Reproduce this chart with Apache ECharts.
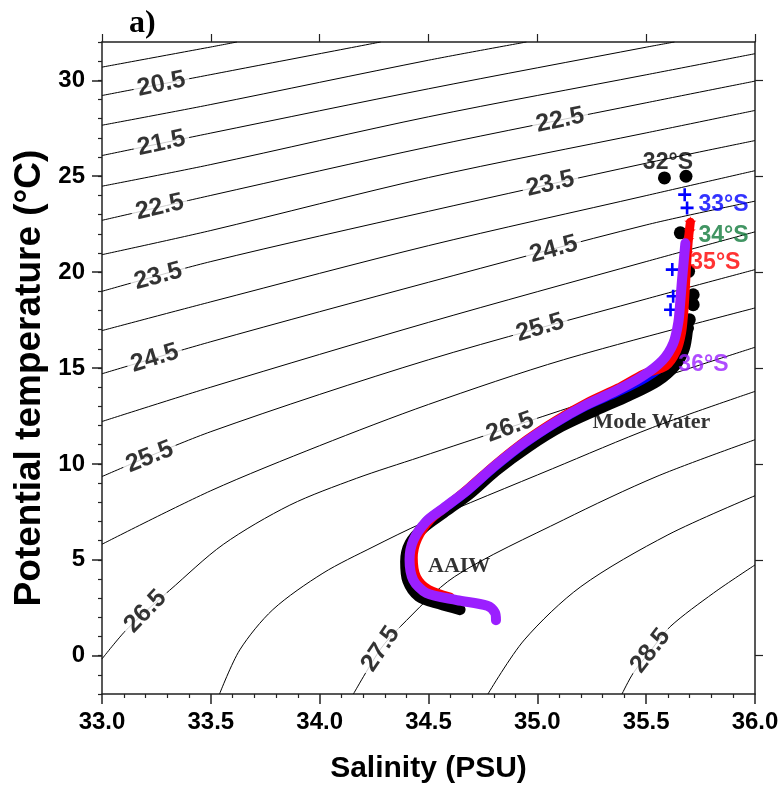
<!DOCTYPE html>
<html>
<head>
<meta charset="utf-8">
<script src="https://cdn.jsdelivr.net/npm/echarts@6/dist/echarts.min.js"></script>
<style>
  html, body { margin: 0; padding: 0; background: #fff; }
  #chart { width: 783px; height: 792px; }
</style>
</head>
<body>
<div id="chart"></div>
<script>
// isopycnals (sigma-theta), points [salinity, potential temperature]
var iso20_0 = [[33.0, 30.69], [33.5, 31.74], [33.62, 32.0]];
var iso20_5 = [[33.0, 29.21], [33.5, 30.3], [34.28, 32.0]];
var iso21_0 = [[33.0, 27.66], [33.5, 28.74], [34.5, 31.05], [34.95, 32.0]];
var iso21_5 = [[33.0, 26.08], [33.5, 27.25], [34.5, 29.56], [35.5, 31.73], [35.63, 32.0]];
var iso22_0 = [[33.0, 24.48], [33.5, 25.61], [34.5, 28.1], [35.5, 30.29], [36.0, 31.39]];
var iso22_5 = [[33.0, 22.7], [33.5, 24.0], [34.5, 26.53], [35.5, 28.83], [36.0, 29.96]];
var iso23_0 = [[33.0, 20.91], [33.5, 22.17], [34.5, 24.93], [35.5, 27.26], [36.0, 28.43]];
var iso23_5 = [[33.0, 19.0], [33.5, 20.55], [34.5, 23.17], [35.5, 25.68], [36.0, 26.86]];
var iso24_0 = [[33.0, 16.95], [33.5, 18.45], [34.5, 21.38], [35.5, 23.99], [36.0, 25.29]];
var iso24_5 = [[33.0, 14.7], [33.5, 16.37], [34.5, 19.47], [35.5, 22.46], [36.0, 23.7]];
var iso25_0 = [[33.0, 12.21], [33.5, 14.0], [34.5, 17.38], [35.5, 20.55], [36.0, 22.1]];
var iso25_5 = [[33.0, 9.34], [33.5, 11.68], [34.5, 15.43], [35.5, 18.6], [36.0, 20.13]];
var iso26_0 = [[33.0, 5.81], [33.5, 8.6], [34.0, 10.95], [34.5, 13.1], [35.12, 15.43], [36.0, 18.13]];
var iso26_5 = [[33.0, -0.17], [33.1, 1.2], [33.2, 2.3], [33.31, 3.4], [33.557, 5.8], [33.863, 7.85],
               [34.17, 9.25], [34.46, 10.35], [34.875, 11.91], [35.5, 14.25], [36.0, 16.08]];
var iso27_0 = [[33.54, -2.0], [33.633, 0.3], [33.785, 2.4], [34.015, 4.3], [34.245, 5.67], [34.475, 6.93],
               [35.07, 9.75], [35.53, 11.9], [36.0, 13.78]];
var iso27_5 = [[34.155, -2.0], [34.28, 0.35], [34.37, 1.51], [34.62, 4.12], [35.12, 7.08], [35.55, 9.35], [36.0, 11.26]];
var iso28_0 = [[34.773, -2.0], [34.94, 0.82], [35.2, 3.6], [35.6, 6.3], [36.0, 8.34]];
var iso28_5 = [[35.389, -2.0], [35.44, -0.92], [35.52, 0.25], [35.61, 1.51], [35.81, 3.27], [36.0, 4.73]];

var isoLevels = ['20.0', '20.5', '21.0', '21.5', '22.0', '22.5', '23.0', '23.5', '24.0',
                 '24.5', '25.0', '25.5', '26.0', '26.5', '27.0', '27.5', '28.0', '28.5'];
var isoLines = [iso20_0, iso20_5, iso21_0, iso21_5, iso22_0, iso22_5, iso23_0, iso23_5, iso24_0,
                iso24_5, iso25_0, iso25_5, iso26_0, iso26_5, iso27_0, iso27_5, iso28_0, iso28_5];

// contour labels
var labelText = ['20.5', '21.5', '22.5', '23.5', '24.5', '25.5', '26.5', '27.5', '28.5',
                 '22.5', '23.5', '24.5', '25.5', '26.5'];
var labelS = [33.273, 33.273, 33.265, 33.258, 33.242, 33.219, 33.2, 34.28, 35.52,
              35.105, 35.06, 35.075, 35.013, 34.875];
var labelT = [29.8, 26.72, 23.39, 19.78, 15.51, 10.36, 2.3, 0.35, 0.25,
              27.92, 24.6, 21.19, 17.1, 11.91];

// stations
// 32S
var s32Band = [[35.69, 17.0], [35.675, 16.0], [35.635, 15.15], [35.55, 14.3], [35.42, 13.55], [35.27, 12.8],
               [35.11, 11.95], [34.96, 10.9], [34.81, 9.65], [34.69, 8.45], [34.57, 7.45], [34.48, 6.7],
               [34.415, 5.85], [34.395, 4.9], [34.405, 3.9], [34.455, 3.1], [34.55, 2.7], [34.645, 2.4]];
var s32Dots = [[35.584, 24.91], [35.683, 25.0], [35.657, 22.05], [35.695, 20.04], [35.716, 18.82],
               [35.716, 18.3], [35.698, 17.52], [35.69, 17.09]];
// 33S
var s33Band = [[35.655, 17.3], [35.64, 16.3], [35.6, 15.35], [35.5, 14.5], [35.37, 13.75], [35.22, 13.0],
               [35.08, 12.1], [34.94, 11.05], [34.8, 9.8], [34.68, 8.6], [34.57, 7.65], [34.49, 6.95],
               [34.43, 6.0], [34.415, 5.0], [34.43, 4.0]];
var s33Plus = [[35.677, 24.04], [35.688, 23.35], [35.62, 20.13], [35.624, 18.74], [35.612, 18.04]];
// 34S
var s34Band = [[35.685, 21.5], [35.675, 20.0], [35.665, 18.5], [35.655, 17.3], [35.63, 16.2], [35.58, 15.35],
               [35.48, 14.55], [35.36, 13.8], [35.22, 13.05], [35.08, 12.15], [34.94, 11.1], [34.8, 9.85],
               [34.68, 8.65], [34.57, 7.7], [34.49, 7.0], [34.43, 6.0], [34.415, 5.0], [34.43, 4.0]];
var s34Tri = [[35.69, 21.96]];
// 35S
var s35Band = [[35.703, 22.6], [35.694, 21.7], [35.688, 20.8], [35.683, 19.8], [35.678, 18.8], [35.672, 17.8],
               [35.662, 16.8], [35.64, 15.9], [35.59, 15.1], [35.49, 14.7], [35.37, 13.95], [35.23, 13.2],
               [35.09, 12.3], [34.95, 11.25], [34.81, 10.0], [34.69, 8.8], [34.59, 7.85], [34.51, 7.1],
               [34.45, 6.1], [34.43, 5.1], [34.445, 4.1], [34.5, 3.45], [34.6, 3.05]];
var s35Stars = [[35.703, 22.6], [35.7, 22.15], [35.694, 21.7], [35.69, 21.0], [35.686, 20.3], [35.68, 19.2]];
// 36S
var s36Band = [[35.68, 21.5], [35.672, 20.5], [35.664, 19.5], [35.657, 18.5], [35.648, 17.4], [35.625, 16.3],
               [35.575, 15.4], [35.48, 14.55], [35.36, 13.8], [35.22, 13.05], [35.08, 12.15], [34.94, 11.1],
               [34.8, 9.85], [34.68, 8.65], [34.57, 7.7], [34.49, 7.0], [34.43, 6.0], [34.413, 5.0],
               [34.43, 3.95], [34.49, 3.27], [34.63, 2.9], [34.77, 2.6], [34.805, 2.25], [34.81, 1.85]];

// text annotations
var noteText = ['32°S', '33°S', '34°S', '35°S', '36°S', 'Mode Water', 'AAIW'];
var noteS = [35.60, 35.855, 35.855, 35.818, 35.763, 35.524, 34.641];
var noteT = [25.71, 23.51, 21.9, 20.49, 15.17, 12.15, 4.68];

var yMajor = [0, 5, 10, 15, 20, 25, 30];

var sans = "'Liberation Sans', Arial, sans-serif";
var serif = "'Liberation Serif', 'Times New Roman', serif";
var axisColor = '#222';

var labelRotate = [12, 12.5, 13.5, 15, 17, 22, 46, 56, 52, 12, 13, 15, 16.5, 20];
var noteColor = ['#000', '#0000ff', '#127a3c', '#ff0000', '#9b1fff', '#000', '#000'];
var noteFont = [sans, sans, sans, sans, sans, serif, serif];
var noteSize = [23, 23, 23, 23, 23, 22, 22];

var plusPath = 'path://M4,0H6V4H10V6H6V10H4V6H0V4H4Z';
var starPath = 'path://M50,0L61,35H98L68,57L79,91L50,70L21,91L32,57L2,35H39Z';

var chart = echarts.init(document.getElementById('chart'));

var series = [];
isoLines.forEach(function (line, i) {
  series.push({
    name: 'sigma ' + isoLevels[i],
    type: 'line',
    data: line,
    smooth: 0.3,
    showSymbol: false,
    silent: true,
    lineStyle: { color: '#000', width: 1 },
    z: 2
  });
});

series.push({
  type: 'scatter',
  silent: true,
  symbolSize: 1,
  itemStyle: { color: 'rgba(0,0,0,0)' },
  z: 3,
  label: {
    show: true,
    position: 'inside',
    color: '#000',
    fontSize: 25,
    fontWeight: 'bold',
    fontFamily: sans,
    backgroundColor: '#fff',
    padding: [0, 4]
  },
  data: labelText.map(function (t, i) {
    return { value: [labelS[i], labelT[i]], label: { rotate: labelRotate[i], formatter: t } };
  })
});

function band(data, color, width, z) {
  return {
    type: 'line', data: data, smooth: 0.3, showSymbol: false, silent: true, z: z,
    lineStyle: { color: color, width: width, cap: 'round', join: 'round' }
  };
}
function marks(data, symbol, size, color, z) {
  return {
    type: 'scatter', data: data, symbol: symbol, symbolSize: size, silent: true, z: z,
    itemStyle: { color: color, opacity: 1 }
  };
}

series.push(band(s32Band, '#000', 11, 4));
series.push(marks(s32Dots, 'circle', 13, '#000', 4));
series.push(band(s33Band, '#0000ff', 9, 5));
series.push(marks(s33Plus, plusPath, 13, '#0000ff', 5));
series.push(band(s34Band, '#127a3c', 9, 6));
series.push(marks(s34Tri, 'triangle', 9, '#127a3c', 6));
series.push(band(s35Band, '#ff0000', 9, 7));
series.push(marks(s35Stars, starPath, 12, '#ff0000', 7));
series.push(band(s36Band, '#9b1fff', 10, 8));

series.push({
  type: 'scatter',
  silent: true,
  symbolSize: 1,
  itemStyle: { color: 'rgba(0,0,0,0)' },
  z: 9,
  label: { show: true, position: 'inside', fontWeight: 'bold' },
  data: noteText.map(function (t, i) {
    return {
      value: [noteS[i], noteT[i]],
      label: { formatter: t, color: noteColor[i], fontFamily: noteFont[i], fontSize: noteSize[i] }
    };
  })
});

var option = {
  backgroundColor: '#fff',
  animation: false,
  title: {
    text: 'a)',
    left: 124,
    top: 3,
    textStyle: { fontFamily: serif, fontWeight: 'bold', fontSize: 32, color: '#000' }
  },
  graphic: [
    {
      type: 'text',
      x: 30,
      y: 378,
      rotation: Math.PI / 2,
      style: {
        text: 'Potential temperature (°C)',
        font: 'bold 37px ' + sans,
        fill: '#000',
        textAlign: 'center',
        textVerticalAlign: 'middle'
      }
    }
  ],
  grid: { left: 102, right: 28, top: 42, bottom: 98 },
  xAxis: [
    {
      type: 'value', min: 33, max: 36, interval: 0.5, position: 'bottom',
      name: 'Salinity (PSU)', nameLocation: 'middle', nameGap: 60,
      nameTextStyle: { fontSize: 30, fontWeight: 'bold', color: '#000', fontFamily: sans },
      axisLine: { show: true, onZero: false, lineStyle: { color: axisColor, width: 1.5 } },
      axisTick: { show: true, length: 10, lineStyle: { color: axisColor, width: 1.5 } },
      minorTick: { show: true, splitNumber: 5, length: 4, lineStyle: { color: axisColor, width: 1.2 } },
      axisLabel: {
        fontSize: 24, fontWeight: 'bold', color: '#000', fontFamily: sans, margin: 16,
        formatter: function (v) { return v.toFixed(1); }
      },
      splitLine: { show: false }
    },
    {
      type: 'value', min: 33, max: 36, interval: 0.5, position: 'top',
      axisLine: { show: true, onZero: false, lineStyle: { color: axisColor, width: 1.5 } },
      axisTick: { show: true, length: 8, lineStyle: { color: axisColor, width: 1.2 } },
      axisLabel: { show: false },
      splitLine: { show: false }
    }
  ],
  yAxis: [
    {
      type: 'value', min: -2, max: 32, interval: 1, position: 'left',
      axisLine: { show: true, onZero: false, lineStyle: { color: axisColor, width: 1.5 } },
      axisTick: { show: true, length: 4, lineStyle: { color: axisColor, width: 1.2 } },
      axisLabel: {
        fontSize: 24, fontWeight: 'bold', color: '#000', fontFamily: sans, margin: 17,
        formatter: function (v) { return v % 5 === 0 ? String(v) : ''; }
      },
      splitLine: { show: false }
    },
    {
      type: 'value', min: -2, max: 32, position: 'left',
      axisLine: { show: false, onZero: false },
      axisTick: { show: true, length: 10, customValues: yMajor, lineStyle: { color: axisColor, width: 1.5 } },
      axisLabel: { show: false },
      splitLine: { show: false }
    },
    {
      type: 'value', min: -2, max: 32, position: 'right',
      axisLine: { show: true, onZero: false, lineStyle: { color: axisColor, width: 1.5 } },
      axisTick: { show: true, length: 8, customValues: yMajor, lineStyle: { color: axisColor, width: 1.2 } },
      axisLabel: { show: false },
      splitLine: { show: false }
    }
  ],
  series: series
};

chart.setOption(option);
</script>
</body>
</html>
